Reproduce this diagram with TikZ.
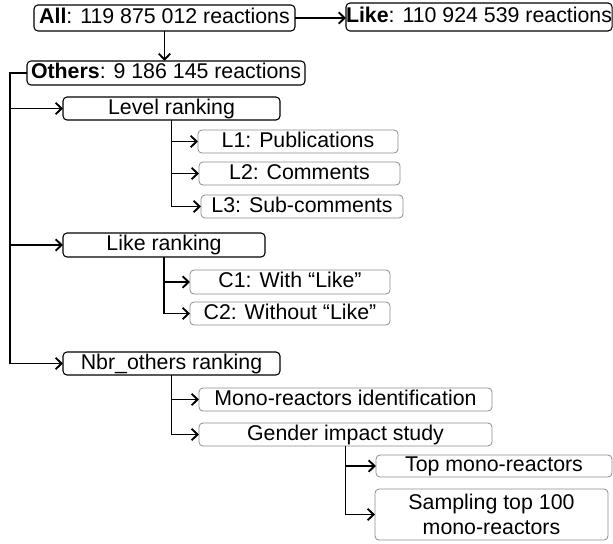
\documentclass[tikz,border=0pt]{standalone}
\usepackage{fontspec}
\setmainfont{Liberation Sans}
\usepackage{tikz}
\usetikzlibrary{arrows.meta}

\tikzset{
  box/.style={draw=black, line width=0.8pt, rounded corners=3pt, inner sep=0pt, outer sep=0pt,
    anchor=west, text height=12pt, text depth=3.5pt, font=\fontsize{16}{19}\selectfont},
  leaf/.style={box, draw=black!45, line width=0.6pt},
  link/.style={line width=1.4pt},
  arr/.style={link, -{Straight Barb[length=4.5pt,width=8.5pt]}}
}

\begin{document}
\begin{tikzpicture}[x=0.75pt,y=-0.75pt]
\useasboundingbox (0,0) rectangle (613,543);

% top level
\node[box, minimum width=195.75pt, minimum height=19.5pt] (all) at (34,18) {\textbf{All}: 119 875 012 reactions};
\node[box, minimum width=196.5pt, minimum height=21pt] (like) at (346,17) {\textbf{Like}: 110 924 539 reactions};
\node[box, minimum width=208.5pt, minimum height=18pt] (others) at (27,73) {\textbf{Others}: 9 186 145 reactions};

% rankings
\node[box, minimum width=162.75pt, minimum height=17.25pt] (level) at (63,108.5) {Level ranking};
\node[box, minimum width=151.5pt, minimum height=18pt] (likerank) at (63,245) {Like ranking};
\node[box, minimum width=162.75pt, minimum height=17.25pt] (nbr) at (63,363.5) {Nbr\_others ranking};

\node[leaf, minimum width=150pt, minimum height=17.25pt] (l1) at (198,141.5) {L1: Publications};
\node[leaf, minimum width=150.75pt, minimum height=17.25pt] (l2) at (199,173.5) {L2: Comments};
\node[leaf, minimum width=151.5pt, minimum height=17.25pt] (l3) at (201,206.5) {L3: Sub-comments};

\node[leaf, minimum width=150pt, minimum height=18pt] (c1) at (190,282) {C1: With “Like”};
\node[leaf, minimum width=150pt, minimum height=17.25pt] (c2) at (190,313.5) {C2: Without “Like”};

\node[leaf, minimum width=219.75pt, minimum height=17.25pt] (mono) at (199,399.5) {Mono-reactors identification};
\node[leaf, minimum width=219.75pt, minimum height=17.25pt] (gender) at (199,434.5) {Gender impact study};

\node[leaf, minimum width=177pt, minimum height=16.5pt] (top) at (376,466) {Top mono-reactors};
\node[leaf, minimum width=174.75pt, minimum height=38.25pt, align=center, text height={}, text depth={}] (sampling) at (375,514.5) {Sampling top 100\\mono-reactors};

\coordinate (tk) at (10,73);

\draw[arr] (all.east) -- (all.east -| like.west);
\draw[arr] (all.south) -- (all.south |- others.north);

\draw[arr] (others.west) -- (tk) |- (nbr.west);
\draw[arr] (tk) |- (level.west);
\draw[arr] (tk) |- (likerank.west);

\draw[arr] (level.south) |- (l1.west);
\draw[arr] (level.south) |- (l2.west);
\draw[arr] (level.south) |- (l3.west);

\draw[arr] (likerank.south) |- (c1.west);
\draw[arr] (likerank.south) |- (c2.west);

\draw[arr] (nbr.south) |- (mono.west);
\draw[arr] (nbr.south) |- (gender.west);

\draw[arr] (gender.south) |- (top.west);
\draw[arr] (gender.south) |- (sampling.west);
\end{tikzpicture}
\end{document}
